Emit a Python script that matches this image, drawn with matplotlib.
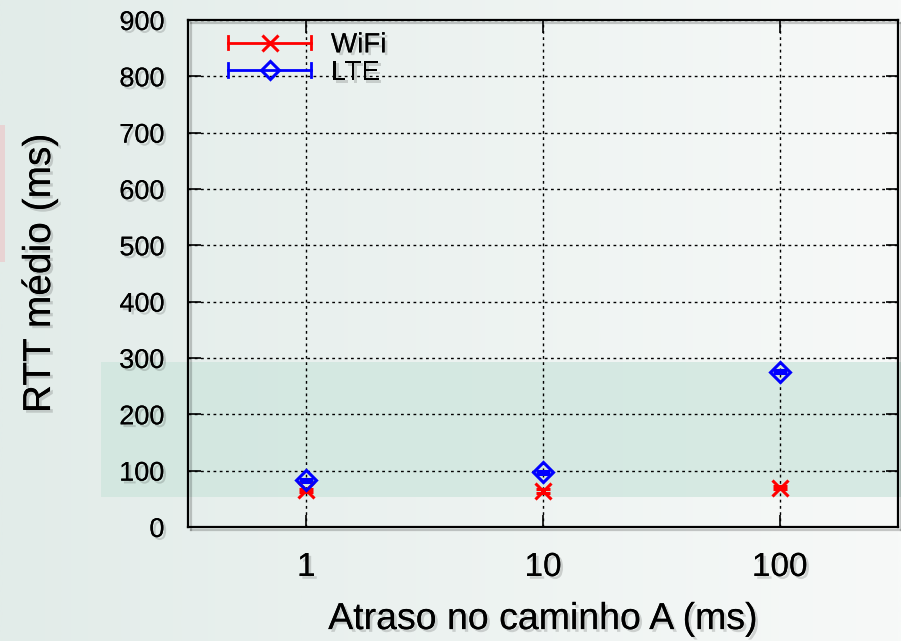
import numpy as np
import matplotlib
matplotlib.use("Agg")
import matplotlib.pyplot as plt
import matplotlib.patheffects as pe
from matplotlib.patches import Rectangle
from matplotlib.lines import Line2D
from matplotlib.legend_handler import HandlerBase

# data
delays = [1, 10, 100]
tick_labels = ["1", "10", "100"]
wifi_rtt = [65, 64, 70]
wifi_err = [3, 3, 3]
lte_rtt = [83, 97, 276]
lte_err = [3, 3, 3]

plt.rcParams["font.family"] = ["Liberation Sans", "DejaVu Sans"]


# gnuplot-like key sample: horizontal bar with end caps and the marker in the middle
class BarKeyHandler(HandlerBase):
    def create_artists(self, legend, orig, xd, yd, width, height, fontsize, trans):
        color = orig.get_color()
        y = yd + height / 2
        cap = height * 0.35
        artists = [
            Line2D([xd, xd + width], [y, y], color=color, lw=2),
            Line2D([xd, xd], [y - cap, y + cap], color=color, lw=2),
            Line2D([xd + width, xd + width], [y - cap, y + cap], color=color, lw=2),
            Line2D([xd + width / 2], [y], marker=orig.get_marker(), ms=orig.get_markersize(),
                   mew=orig.get_markeredgewidth(), color=color, mfc=orig.get_markerfacecolor(),
                   ls="none"),
        ]
        for a in artists:
            a.set_transform(trans)
        return artists


fig = plt.figure(figsize=(9.01, 6.41), dpi=100)

# background gradient (slide look)
bg = fig.add_axes([0, 0, 1, 1], zorder=-10)
grad = np.linspace(0, 1, 512).reshape(1, -1)
cmap = matplotlib.colors.LinearSegmentedColormap.from_list("bg", ["#e2ece9", "#f7f9f8"])
bg.imshow(grad, aspect="auto", cmap=cmap, extent=[0, 1, 0, 1], interpolation="bilinear")
bg.add_patch(Rectangle((101 / 901, (641 - 497) / 641), 800 / 901, 135 / 641,
                       color="#cfe6de", alpha=0.8, lw=0))
bg.add_patch(Rectangle((0, (641 - 262) / 641), 5 / 901, 137 / 641,
                       color="#e8d3d3", lw=0))
bg.set_xlim(0, 1)
bg.set_ylim(0, 1)
bg.axis("off")

shadow = [pe.withSimplePatchShadow(offset=(2, -2), shadow_rgbFace="k", alpha=0.15), pe.Normal()]

ax = fig.add_axes([188 / 901, (641 - 527) / 641, 710 / 901, 507 / 641])
ax.patch.set_alpha(0)
ax.set_xscale("log")
ax.set_xlim(10 ** -0.5, 10 ** 2.5)
ax.set_ylim(0, 900)

ax.errorbar(delays, wifi_rtt, yerr=wifi_err, fmt="x", color="#ff0000", ms=12, mew=2.2,
            elinewidth=1.5, capsize=5)
ax.errorbar(delays, lte_rtt, yerr=lte_err, fmt="D", color="#0000ff", ms=10.5, mew=2.2,
            mfc="none", elinewidth=1.5, capsize=5)

ax.set_xticks(delays)
ax.set_xticklabels(tick_labels)
ax.minorticks_off()
ax.set_yticks(range(0, 901, 100))
ax.tick_params(axis="both", direction="in", length=9, width=1.2, top=True, right=True)
ax.tick_params(axis="y", labelsize=19.5, pad=17)
ax.tick_params(axis="x", labelsize=24, pad=18)
ax.grid(True, color="black", linestyle=(0, (2, 2.5)), linewidth=1)
for s in ax.spines.values():
    s.set_linewidth(1.6)
    s.set_path_effects([pe.SimpleLineShadow(offset=(2, -2), alpha=0.2), pe.Normal()])

for lbl in ax.get_xticklabels() + ax.get_yticklabels():
    lbl.set_path_effects(shadow)

ax.set_xlabel("Atraso no caminho A (ms)", fontsize=27, labelpad=13, path_effects=shadow)
ax.set_ylabel("RTT médio (ms)", fontsize=28, labelpad=44, path_effects=shadow)

wifi_key = Line2D([], [], color="#ff0000", marker="x", ms=12, mew=2.2)
lte_key = Line2D([], [], color="#0000ff", marker="D", ms=9, mew=2.2, mfc="none")
leg = ax.legend([wifi_key, lte_key], ["WiFi", "LTE"], loc="upper left", frameon=False,
                fontsize=20, handlelength=3.0, handletextpad=0.7, borderpad=0.0,
                labelspacing=0.05, bbox_to_anchor=(0.037, 1.003),
                handler_map={Line2D: BarKeyHandler()})
for t in leg.get_texts():
    t.set_path_effects(shadow)

fig.savefig("out.png", dpi=100)
